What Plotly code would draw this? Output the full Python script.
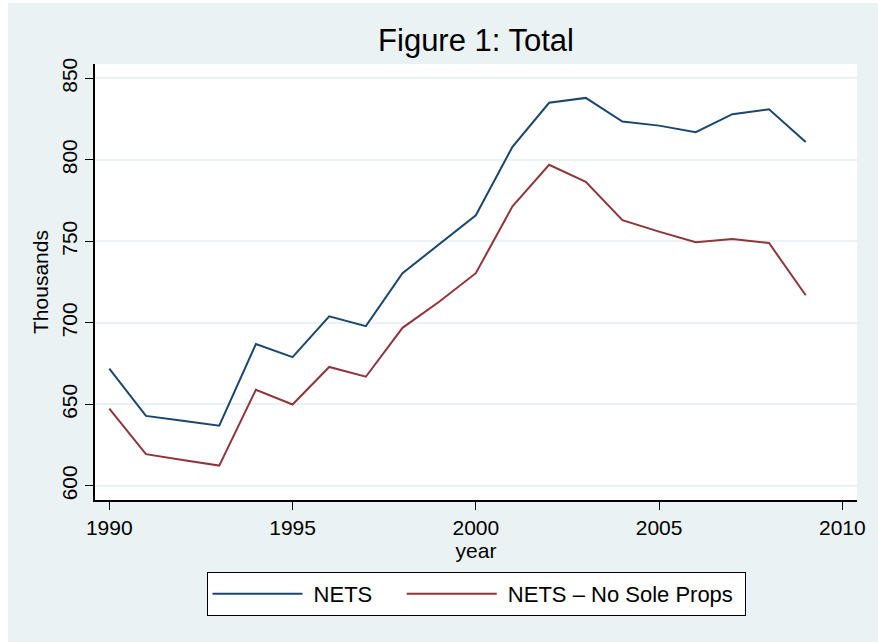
import plotly.graph_objects as go

years = list(range(1990, 2010))
nets = [672, 643, 640, 637, 687, 679, 704, 698, 730.5, 748, 766, 808, 835, 838, 823.5, 821, 817, 828, 831, 811]
nets_no_sole = [647.5, 619.5, 616, 612.5, 659, 650, 673, 667, 697, 713, 730.5, 771.5, 797, 786.5, 763, 756, 749.5, 751.5, 749, 717]
series_names = ["NETS", "NETS \u2013 No Sole Props"]

BG = "#EAF2F3"
NAVY = "#1a476f"
MAROON = "#90353b"
FONT = "Liberation Sans"
NB = "\u00a0"

fig = go.Figure()
fig.add_trace(go.Scatter(x=years, y=nets, mode="lines", name=NB + series_names[0] + NB * 4,
                         line=dict(color=NAVY, width=2)))
fig.add_trace(go.Scatter(x=years, y=nets_no_sole, mode="lines", name=NB + series_names[1] + NB,
                         line=dict(color=MAROON, width=2)))

fig.update_layout(
    width=870, height=639,
    paper_bgcolor=BG, plot_bgcolor="white",
    margin=dict(l=87, r=12, t=61, b=142),
    font=dict(family=FONT, color="black", size=21),
    title=dict(text="Figure 1: Total", x=0.5, xref="paper", xanchor="center",
               y=1, yref="paper", yanchor="bottom", pad=dict(b=13),
               font=dict(size=31, family=FONT, color="black")),
    showlegend=True,
    legend=dict(orientation="h", x=0.5, xanchor="center", y=-0.165, yanchor="top",
                bgcolor="white", bordercolor="black", borderwidth=1,
                font=dict(size=22, family=FONT), itemwidth=90),
)
fig.update_xaxes(range=[1989.61, 2010.4], tickvals=[1990, 1995, 2000, 2005, 2010],
                 ticks="outside", ticklen=8, tickcolor="black", showline=True,
                 linecolor="black", linewidth=1.5, showgrid=False, zeroline=False,
                 tickfont=dict(size=21),
                 title=dict(text="year", font=dict(size=21), standoff=1))
fig.update_yaxes(range=[591.4, 858.8], tickvals=[600, 650, 700, 750, 800, 850],
                 ticks="outside", ticklen=8, tickcolor="black", showline=True,
                 linecolor="black", linewidth=1.5, showgrid=True, gridcolor=BG, gridwidth=2,
                 zeroline=False, tickangle=-90, tickfont=dict(size=21),
                 title=dict(text="Thousands", font=dict(size=21), standoff=3))

fig.write_html(
    "out.html",
    post_script=(
        "document.documentElement.style.overflow='hidden';"
        "document.body.style.overflow='hidden';"
        "document.body.style.margin='3px 0 0 8px';"
    ),
)
